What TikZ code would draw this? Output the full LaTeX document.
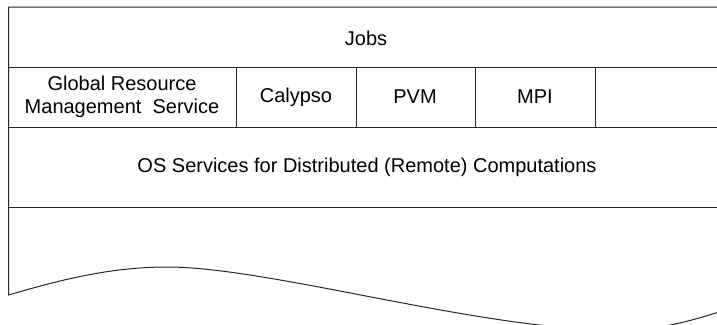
\documentclass[tikz,border=0pt]{standalone}
\usepackage{fontspec}
\setmainfont{Liberation Sans}
\begin{document}
\begin{tikzpicture}[x=1pt,y=-1pt,
  frame/.style={line width=1pt,draw=black!85},
  lbl/.style={font=\fontsize{20}{23.5}\selectfont,inner sep=0pt,align=center}]
\useasboundingbox (0,0) rectangle (717,324);
\begin{scope}
\clip (0,0) rectangle (717,324);
% outer frame
\draw[frame] (717,7) -- (8.5,7) -- (8.5,295)
  .. controls (60,280) and (110,267) .. (167,267)
  .. controls (270,267) and (480,330) .. (615,330)
  .. controls (660,330) and (690,322) .. (740,305);
\draw[frame] (8.5,67) -- (717,67);
\draw[frame] (8.5,127) -- (717,127);
\draw[frame] (8.5,207) -- (717,207);
\draw[frame] (236,67) -- (236,127);
\draw[frame] (356,67) -- (356,127);
\draw[frame] (475,67) -- (475,127);
\draw[frame] (595,67) -- (595,127);
\end{scope}
\node[lbl] (jobs) at (366,38) {Jobs};
\node[lbl] (grms) at (122,97) {Global Resource\\Management\ \ Service};
\node[lbl] (calypso) at (296,97) {Calypso};
\node[lbl] (pvm) at (415,97) {PVM};
\node[lbl] (mpi) at (535,97) {MPI};
\node[lbl] (os) at (367,167) {OS Services for Distributed (Remote) Computations};
\end{tikzpicture}
\end{document}
